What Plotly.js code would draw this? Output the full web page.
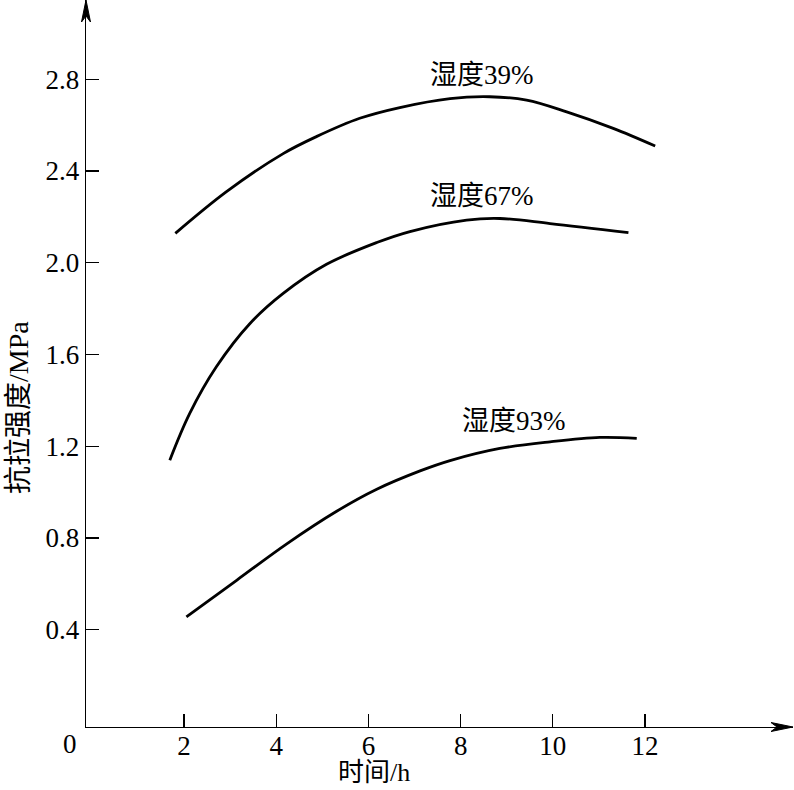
<!DOCTYPE html>
<html>
<head>
<meta charset="utf-8">
<script src="https://cdn.plot.ly/plotly-3.0.1.min.js"></script>
<style>html,body{margin:0;padding:0;background:#fff;}#chart{width:794px;height:790px;}</style>
</head>
<body>
<div id="chart"></div>
<script>
// Data
const time39 = [1.81, 2.92, 4.15, 4.87, 5.81, 6.68, 7.77, 8.63, 9.43, 10.3, 11.31, 12.22];
const tens39 = [2.128, 2.31, 2.476, 2.55, 2.63, 2.677, 2.716, 2.724, 2.709, 2.658, 2.586, 2.509];

const time67 = [1.69, 2.12, 2.70, 3.43, 4.15, 5.09, 6.18, 6.90, 8.13, 8.85, 9.94, 11.64];
const tens67 = [1.139, 1.342, 1.546, 1.735, 1.866, 1.993, 2.088, 2.136, 2.186, 2.193, 2.171, 2.131];

const time93 = [2.05, 3.14, 4.22, 5.31, 6.18, 7.12, 7.77, 8.85, 9.94, 11.02, 11.82];
const tens93 = [0.455, 0.615, 0.773, 0.916, 1.012, 1.092, 1.137, 1.19, 1.219, 1.238, 1.234];

const seriesNames = ['湿度39%', '湿度67%', '湿度93%'];
const labelPos = [[8.46, 2.818], [8.46, 2.29], [9.16, 1.309]];

const xTicks = [2, 4, 6, 8, 10, 12];
const yTicks = [0.4, 0.8, 1.2, 1.6, 2.0, 2.4, 2.8];
const yTickText = ['0.4', '0.8', '1.2', '1.6', '2.0', '2.4', '2.8'];

const xTitle = '时间/h';
const yTitle = '抗拉强度/MPa';

const FONT = 'Liberation Serif, "Times New Roman", "Noto Sans CJK SC", serif';
const X0 = -0.128, X1 = 15.21, Y0 = -0.025, Y1 = 3.146;

const W = 794, H = 790, L = 86, R = 1, T = 0, B = 63;
const pw = W - L - R, ph = H - T - B;

const lineStyle = {color: '#000', width: 2.8, shape: 'spline', smoothing: 1};
const traces = [
  {x: time39, y: tens39, name: seriesNames[0], mode: 'lines', line: lineStyle},
  {x: time67, y: tens67, name: seriesNames[1], mode: 'lines', line: lineStyle},
  {x: time93, y: tens93, name: seriesNames[2], mode: 'lines', line: lineStyle}
];

const annotations = seriesNames.map((n, i) => ({
  x: labelPos[i][0], y: labelPos[i][1], xref: 'x', yref: 'y',
  xanchor: 'center', yanchor: 'middle',
  text: n, showarrow: false, font: {family: FONT, size: 27, color: '#000'}
}));
annotations.push(
  {x: (70 - L) / pw, y: (H - B - 744) / ph, xref: 'paper', yref: 'paper',
   xanchor: 'center', yanchor: 'middle', text: '0', showarrow: false,
   font: {family: FONT, size: 27, color: '#000'}},
  {x: (374 - L) / pw, y: (H - B - 772) / ph, xref: 'paper', yref: 'paper',
   xanchor: 'center', yanchor: 'middle', text: xTitle, showarrow: false,
   font: {family: FONT, size: 26, color: '#000'}},
  {x: (18 - L) / pw, y: (H - B - 408) / ph, xref: 'paper', yref: 'paper',
   xanchor: 'center', yanchor: 'middle', text: yTitle, textangle: -90, showarrow: false,
   font: {family: FONT, size: 28, color: '#000'}}
);

// axis arrowheads (decoration, paper coordinates)
const px = v => v / pw, py = v => v / ph;
const upArrow = `M 0 1 L ${-px(4.5)} ${1 - py(22)} L 0 ${1 - py(16)} L ${px(4.5)} ${1 - py(22)} Z`;
const rightArrow = `M 1 0 L ${1 - px(22)} ${py(4.5)} L ${1 - px(16)} 0 L ${1 - px(22)} ${-py(4.5)} Z`;
const shapes = [
  {type: 'path', xref: 'paper', yref: 'paper', path: upArrow, fillcolor: '#000', line: {color: '#000', width: 1}},
  {type: 'path', xref: 'paper', yref: 'paper', path: rightArrow, fillcolor: '#000', line: {color: '#000', width: 1}}
];

const layout = {
  width: W, height: H,
  margin: {l: L, r: R, t: T, b: B, pad: 0},
  paper_bgcolor: '#fff', plot_bgcolor: '#fff',
  showlegend: false,
  font: {family: FONT, color: '#000'},
  xaxis: {
    range: [X0, X1], showgrid: false, zeroline: false,
    showline: true, linecolor: '#000', linewidth: 1.4,
    ticks: 'inside', ticklen: 13, tickwidth: 1.3, tickcolor: '#000',
    ticklabelstandoff: -6,
    tickvals: xTicks, ticktext: xTicks.map(String),
    tickfont: {family: FONT, size: 27, color: '#000'}
  },
  yaxis: {
    range: [Y0, Y1], showgrid: false, zeroline: false,
    showline: true, linecolor: '#000', linewidth: 1.4,
    ticks: 'inside', ticklen: 13, tickwidth: 1.3, tickcolor: '#000',
    tickvals: yTicks, ticktext: yTickText,
    tickfont: {family: FONT, size: 27, color: '#000'}
  },
  shapes: shapes,
  annotations: annotations
};

Plotly.newPlot('chart', traces, layout, {displayModeBar: false, staticPlot: true});
</script>
</body>
</html>
